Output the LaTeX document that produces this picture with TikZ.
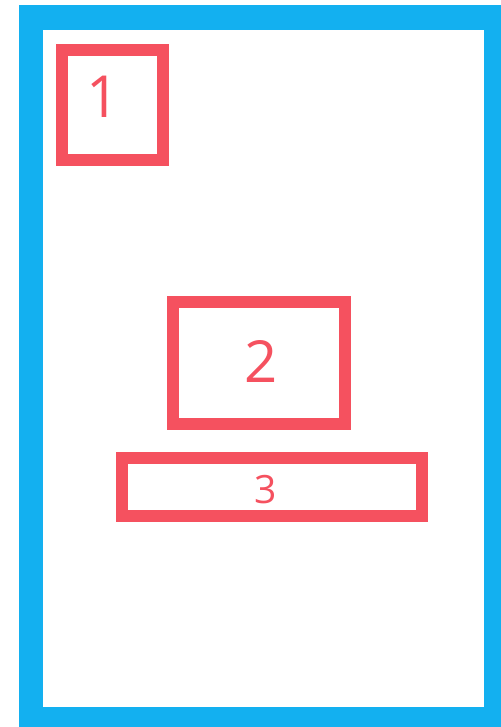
\documentclass[tikz,border=0pt]{standalone}
\usepackage{fontspec}
\setmainfont{Open Sans}
\definecolor{frameblue}{HTML}{13B0F0}
\definecolor{boxred}{HTML}{F5515F}
\begin{document}
\begin{tikzpicture}[x=1pt,y=-1pt,
  frame/.style={draw=frameblue,line width=24.5pt},
  redbox/.style={draw=boxred,line width=12pt},
  digit/.style={text=boxred,inner sep=0pt,anchor=base}]
\useasboundingbox (0,0) rectangle (500,727);
\fill[white] (0,0) rectangle (500,727);
\draw[frame] (31,17.5) rectangle (496.5,719.5);
\coordinate (b1a) at (62,50.5); \coordinate (b1b) at (162.5,160.5);
\coordinate (b2a) at (173,302); \coordinate (b2b) at (345,424);
\coordinate (b3a) at (122,457.5); \coordinate (b3b) at (421.5,515.5);
\draw[redbox] (b1a) rectangle (b1b);
\draw[redbox] (b2a) rectangle (b2b);
\draw[redbox] (b3a) rectangle (b3b);
\node[digit,font=\fontsize{58}{58}\selectfont] (t1) at (103,118) {1};
\node[digit,font=\fontsize{58}{58}\selectfont] (t2) at (261,382) {2};
\node[digit,font=\fontsize{39}{39}\selectfont] (t3) at (265.5,503) {3};
\end{tikzpicture}
\end{document}
